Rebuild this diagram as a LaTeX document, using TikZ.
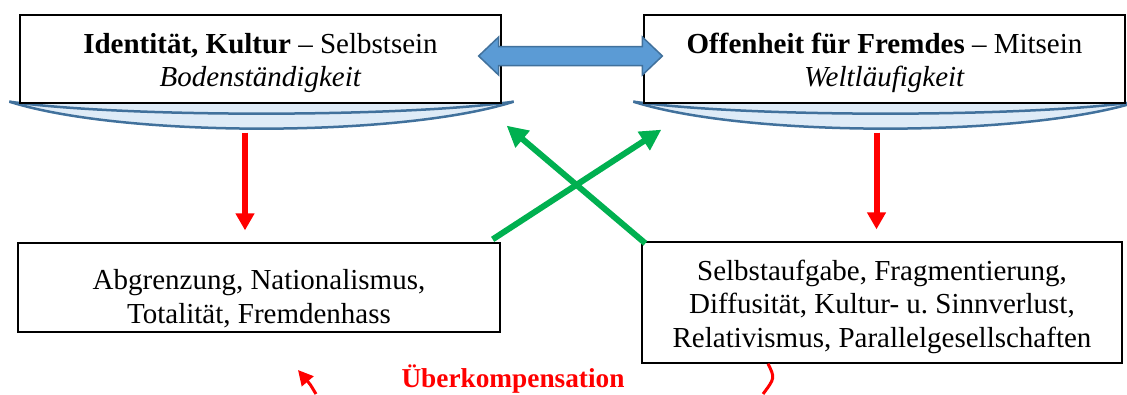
\documentclass[tikz,border=0pt]{standalone}
\usepackage{fontspec}
\setmainfont{Liberation Serif}
\usepackage{xcolor}
\usetikzlibrary{arrows.meta,calc,backgrounds}

\definecolor{rimblue}{HTML}{41719C}
\definecolor{dishfill}{HTML}{DEEBF7}
\definecolor{arrowblue}{HTML}{5B9BD5}
\definecolor{xgreen}{HTML}{00B050}

% dish under one of the top boxes
\newcommand{\dish}[1]{%
  \fill[dishfill] ([shift={(-10,-2)}]#1.south west) coordinate (#1-l)
    -- ([shift={(12,-2)}]#1.south east) coordinate (#1-r)
    .. controls +(-113,36) and +(113,36) .. (#1-l) -- cycle;
  \draw[rim] (#1-r) .. controls +(-113,36) and +(113,36) .. (#1-l);
  \draw[rim] (#1-r) .. controls +(-113,16) and +(113,16) .. (#1-l);
}

\begin{document}
\begin{tikzpicture}[x=1pt,y=-1pt,
  box/.style={draw, line width=1.3pt, fill=white, minimum width=481pt, minimum height=88pt, inner sep=0pt},
  txt/.style={align=center, font=\fontsize{29}{33.5}\selectfont, inner sep=0pt},
  rim/.style={draw=rimblue, line width=2.5pt},
  dblarrow/.style={fill=arrowblue, draw=rimblue, line width=1.5pt, line join=miter},
  redarrow/.style={draw=red, line width=6pt, -{Triangle[length=17pt,width=18pt]}},
  greenarrow/.style={draw=xgreen, line width=6pt, -{Triangle[length=21pt,width=21pt]}},
  redcurve/.style={draw=red, line width=3pt}]
\useasboundingbox (0,0) rectangle (1127,394);

\node[box] (ident) at (260.5,59) {};
\node[txt] (identtxt) at (260.5,63) {\textbf{Identität, Kultur} – Selbstsein\\\textit{Bodenständigkeit}};
\node[box] (offen) at (884.5,59) {};
\node[txt] (offentxt) at (884.5,63) {\textbf{Offenheit für Fremdes} – Mitsein\\\textit{Weltläufigkeit}};

\node[box, minimum width=482pt, minimum height=89pt] (abgr) at (259,287.5) {};
\node[txt] (abgrtxt) at (259,298.5) {Abgrenzung, Nationalismus,\\Totalität, Fremdenhass};
\node[box, minimum width=480pt, minimum height=121pt] (selbst) at (882,302.5) {};
\node[txt] (selbsttxt) at (882,306.7) {Selbstaufgabe, Fragmentierung,\\Diffusität, Kultur- u.\ Sinnverlust,\\Relativismus, Parallelgesellschaften};

\node[font=\bfseries\fontsize{27.3}{30}\selectfont, text=red, anchor=base, inner sep=0pt] (ueber) at (513,387) {Überkompensation};

\begin{scope}[on background layer]
\dish{ident}
\dish{offen}
\end{scope}

% double arrow between the top boxes
\coordinate (dl) at ([shift={(-23,-3)}]ident.east);
\coordinate (dr) at ([shift={(19,-3)}]offen.west);
\draw[dblarrow] (dl) -- ++(20,-19) -- ++(0,9.5) -- ($(dr)+(-20,-9.5)$) -- ++(0,-9.5) -- (dr)
  -- ++(-20,19) -- ++(0,-9.5) -- ($(dl)+(20,9.5)$) -- ++(0,9.5) -- cycle;

\draw[redarrow] ([xshift=-15.5pt]ident.south) ++(0,29) -- ([xshift=-14pt,yshift=12pt]abgr.north);
\draw[redarrow] ([xshift=-8pt]offen.south) ++(0,29) -- ([xshift=-5.5pt,yshift=12pt]selbst.north);

\draw[greenarrow] ([shift={(-8,-3)}]abgr.north east) -- ([shift={(18,26)}]offen.south west);
\draw[greenarrow] ([shift={(4,2)}]selbst.north west) -- ([shift={(5,22)}]ident.south east);

% parts of the lower arc
\coordinate (arcin) at (316,394);
\coordinate (arcout) at (763,394);
\draw[redcurve, -{Triangle[length=15pt,width=15pt]}] (arcin) .. controls (310,384) .. (298,370);
\draw[redcurve] ([xshift=-114pt]selbst.south) .. controls (775,378) .. (arcout);
\end{tikzpicture}
\end{document}
